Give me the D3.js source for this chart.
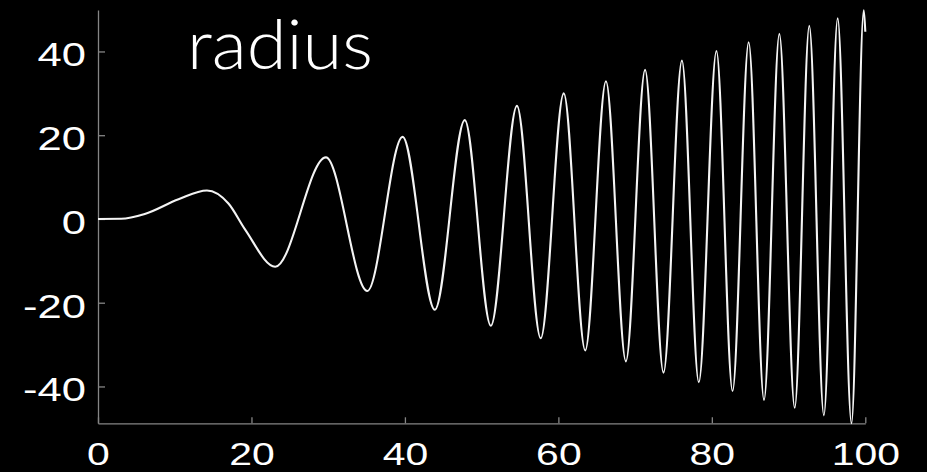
<!DOCTYPE html>
<html>
<head>
<meta charset="utf-8">
<script src="https://cdn.jsdelivr.net/npm/d3@7"></script>
<style>
  html, body { margin: 0; padding: 0; background: #000; }
  svg { display: block; }
</style>
</head>
<body>
<svg class="chart"></svg>
<script>
// points (time, radius): start, the slow first bump, then every peak/trough
const tVals = [0, 3.0, 6.1, 10.5, 14.2, 17.0, 19.2, 23.1,
  29.7, 35.1, 39.7, 43.9, 47.8, 51.2, 54.6, 57.7, 60.7, 63.5, 66.2, 68.8,
  71.3, 73.7, 76.1, 78.3, 80.6, 82.7, 84.8, 86.8, 88.8, 90.8, 92.7, 94.6,
  96.4, 98.2, 99.8, 100]
const rVals = [0, 0.05, 1.2, 4.7, 6.8, 3.7, -2.6, -11.4,
  14.7, -17.2, 19.6, -21.7, 23.6, -25.5, 27.0, -28.5, 30.0, -31.4, 32.9, -34.0,
  35.6, -36.7, 37.8, -39.0, 40.1, -41.1, 42.2, -43.2, 44.2, -45.1, 46.1, -46.9,
  47.9, -48.8, 49.8, 44.7]

const xTicks = [0, 20, 40, 60, 80, 100]
const yTicks = [-40, -20, 0, 20, 40]
const title = "radius"

const totalWidth = 927, totalHeight = 472
const margin = {top: 10, left: 98, right: 62, bottom: 49}
const stretch = 1.32 // the picture's text is wider than it is tall

const x = d3.scaleLinear()
  .domain([0, 100])
  .range([margin.left, totalWidth - margin.right + 0.3])

const y = d3.scaleLinear()
  .domain([-48.8, 49.9])
  .range([totalHeight - margin.bottom + 0.3, margin.top])

const svg = d3.select(".chart")
  .attr("width", totalWidth)
  .attr("height", totalHeight)

svg.append("rect")
  .attr("width", totalWidth)
  .attr("height", totalHeight)
  .attr("fill", "#000")

// axes, ticks pointing inwards
const yAxis = d3.axisLeft(y)
  .tickValues(yTicks)
  .tickSize(-7)
  .tickSizeOuter(0)
  .tickPadding(9)
  .tickFormat(d => String(d))

const xAxis = d3.axisBottom(x)
  .tickValues(xTicks)
  .tickSize(-6)
  .tickSizeOuter(0)
  .tickPadding(20)
  .tickFormat(d => String(d))

const gy = svg.append("g")
  .attr("transform", "translate(" + margin.left + ",0)")
  .call(yAxis)

const gx = svg.append("g")
  .attr("transform", "translate(0," + y(-48.8) + ")")
  .call(xAxis)

;[gx, gy].forEach(g => {
  g.selectAll("path, line")
    .attr("stroke", "#858585")
    .attr("stroke-width", 1.3)
  g.selectAll("text")
    .attr("fill", "#fff")
    .style("font-family", "'Liberation Sans', Arial, Helvetica, sans-serif")
})

gy.selectAll("text")
  .style("font-size", "33px")
  .attr("x", -12 / stretch)
  .attr("dy", "0.44em")
  .attr("transform", "scale(" + stretch + ",1)")

gx.selectAll("text")
  .style("font-size", "31px")
  .attr("transform", "scale(" + stretch + ",1)")

// the curve
const pts = tVals.map((t, i) => [t, rVals[i]])

const line = d3.line()
  .x(d => x(d[0]))
  .y(d => y(d[1]))
  .curve(d3.curveMonotoneX)

svg.append("path")
  .datum(pts)
  .attr("d", line)
  .attr("fill", "none")
  .attr("stroke", "#f4f4f4")
  .attr("stroke-width", 2.1)
  .attr("stroke-linejoin", "round")

svg.append("text")
  .attr("x", 187)
  .attr("y", 69)
  .attr("textLength", 186)
  .attr("lengthAdjust", "spacingAndGlyphs")
  .attr("fill", "#fff")
  .style("font-family", "Lato, 'Open Sans', sans-serif")
  .style("font-weight", 300)
  .style("font-size", "69px")
  .text(title)
</script>
</body>
</html>
